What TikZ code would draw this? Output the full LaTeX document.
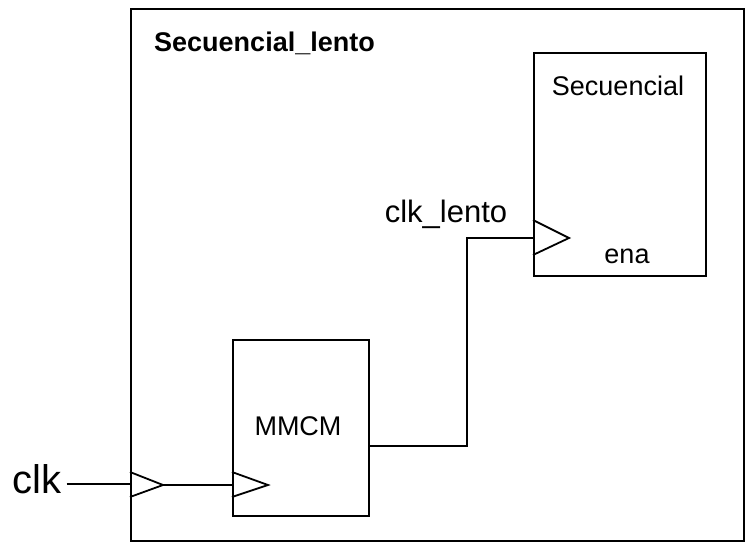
\documentclass[tikz,border=0pt]{standalone}
\usepackage{fontspec}
\setmainfont{Liberation Sans}
\begin{document}
\begin{tikzpicture}[x=1pt,y=-1pt,
  blk/.style={draw, line width=1.8pt, rectangle, anchor=north west, inner sep=0pt},
  wire/.style={draw, line width=1.8pt},
  lbl/.style={inner sep=0pt, anchor=base, font=\fontsize{27}{31}\selectfont}
]
\useasboundingbox (0,0) rectangle (748,544);
% blocks
\node[blk, minimum width=613pt, minimum height=532pt] (outer) at (130,8) {};
\node[blk, minimum width=136pt, minimum height=176pt] (mmcm) at (232,339) {};
\node[blk, minimum width=172pt, minimum height=223pt] (sec) at (533,52) {};
% labels
\node[inner sep=0pt, anchor=base west, font=\bfseries\fontsize{27}{31}\selectfont] (title) at (154,51) {Secuencial\_lento};
\node[lbl] (mmcmlbl) at (298,435) {MMCM};
\node[lbl] (seclbl) at (618,95) {Secuencial};
\node[lbl] (enalbl) at (627,263) {ena};
\node[lbl, font=\fontsize{31}{35}\selectfont] (clklento) at (446,222) {clk\_lento};
\node[inner sep=0pt, anchor=base, font=\fontsize{40}{45}\selectfont] (clk) at (37,493) {clk};
% clock triangles
\coordinate (t1) at (163,485);
\coordinate (t2) at (268,485);
\coordinate (t3) at (569,238);
\draw[wire, line join=miter] (130,472) -- (t1) -- (130,497);
\draw[wire, line join=miter] (232,472) -- (t2) -- (232,497);
\draw[wire, line join=miter] (533,220) -- (t3) -- (533,255);
% connectors
\coordinate (clkend) at (outer.west |- 0,484);
\draw[wire] ([xshift=5pt]clk.east |- clkend) -- (clkend);
\draw[wire] (t1) -- (mmcm.west |- t1);
\coordinate (mout) at (mmcm.east |- 0,446);
\coordinate (bend) at (467,446);
\draw[wire] (mout) -- (bend) |- (sec.west |- t3);
\end{tikzpicture}
\end{document}
